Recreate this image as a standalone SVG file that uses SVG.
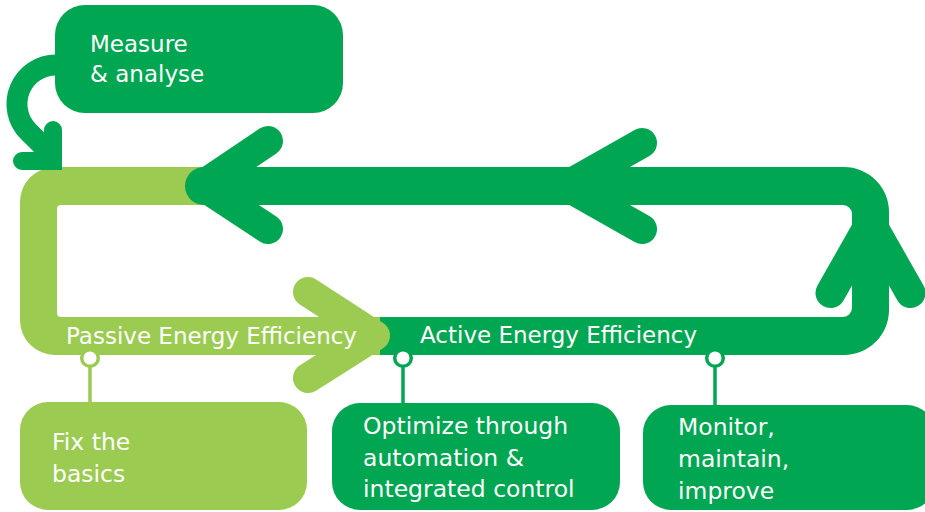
<svg xmlns="http://www.w3.org/2000/svg" width="925" height="512" viewBox="0 0 925 512">
  <style>
    .dk{fill:#00A651}
    .lt{fill:#9BCB51}
    .dkS{fill:none;stroke:#00A651;stroke-width:30;stroke-linecap:round;stroke-linejoin:round}
    .ltS{fill:none;stroke:#9BCB51;stroke-width:30;stroke-linecap:round;stroke-linejoin:round}
    .t{font-family:"DejaVu Sans","Liberation Sans",sans-serif;font-size:23px;fill:#ffffff}
    .tb{font-family:"DejaVu Sans","Liberation Sans",sans-serif;font-size:23.5px;fill:#ffffff}
    .ring{fill:#ffffff;stroke-width:3.5}
  </style>
  <rect width="925" height="512" fill="#ffffff"/>

  <g id="cycle">
    <path class="lt" d="M 204 167 H 55 A 35 35 0 0 0 20 202 V 320 A 35 35 0 0 0 55 355 H 382 V 317 H 61 A 4 4 0 0 1 57 313 V 209 A 4 4 0 0 1 61 205 H 204 Z"/>
    <path class="dk" d="M 204 167 H 844 A 45 45 0 0 1 889 212 V 310 A 45 45 0 0 1 844 355 H 380 V 317 H 843 A 9 9 0 0 0 852 308 V 214 A 9 9 0 0 0 843 205 H 204 Z"/>
    <circle class="dk" cx="204" cy="186" r="19"/>
    <polyline class="dkS" points="268,141 202,185.5 268,229"/>
    <polyline class="dkS" points="642,143 566,186 642,229"/>
    <polyline class="dkS" points="830.5,293 870.5,222.5 910.5,293"/>
    <polyline class="ltS" points="308,292 375,335.5 308,378"/>
  </g>

  <g id="measure-arrow">
    <path d="M 70 65 H 56 A 39 39 0 0 0 28.4 131.6 L 48 151" fill="none" stroke="#00A651" stroke-width="21"/>
    <polyline points="53,130 53,161 22,161" fill="none" stroke="#00A651" stroke-width="18" stroke-linecap="round" stroke-linejoin="miter"/>
  </g>

  <g id="measure">
    <rect class="dk" x="55" y="5" width="288" height="108" rx="30"/>
    <text class="t" x="90" y="52">Measure</text>
    <text class="t" x="90" y="82">&amp; analyse</text>
  </g>

  <g id="passive-label">
    <text class="t" x="66" y="344">Passive Energy Efficiency</text>
  </g>
  <g id="active-label">
    <text class="t" x="420" y="343">Active Energy Efficiency</text>
  </g>

  <g id="connectors">
    <line x1="90" y1="366" x2="90" y2="404" stroke="#9BCB51" stroke-width="3.5"/>
    <line x1="403" y1="366" x2="403" y2="405" stroke="#00A651" stroke-width="3.5"/>
    <line x1="715" y1="366" x2="715" y2="407" stroke="#00A651" stroke-width="3.5"/>
    <circle class="ring" cx="90" cy="358" r="8.3" stroke="#9BCB51"/>
    <circle class="ring" cx="403" cy="358" r="8.3" stroke="#00A651"/>
    <circle class="ring" cx="715" cy="358" r="8.3" stroke="#00A651"/>
  </g>

  <g id="fix">
    <rect class="lt" x="20" y="402" width="287" height="108" rx="28"/>
    <text class="tb" x="52" y="450">Fix the</text>
    <text class="tb" x="52" y="482">basics</text>
  </g>
  <g id="optimize">
    <rect class="dk" x="332" y="403" width="288" height="107" rx="28"/>
    <text class="tb" x="363" y="434">Optimize through</text>
    <text class="tb" x="363" y="466">automation &amp;</text>
    <text class="tb" x="363" y="497">integrated control</text>
  </g>
  <g id="monitor">
    <rect class="dk" x="643" y="405" width="292" height="105" rx="28"/>
    <text class="tb" x="678" y="435">Monitor,</text>
    <text class="tb" x="678" y="467">maintain,</text>
    <text class="tb" x="678" y="499">improve</text>
  </g>
</svg>
